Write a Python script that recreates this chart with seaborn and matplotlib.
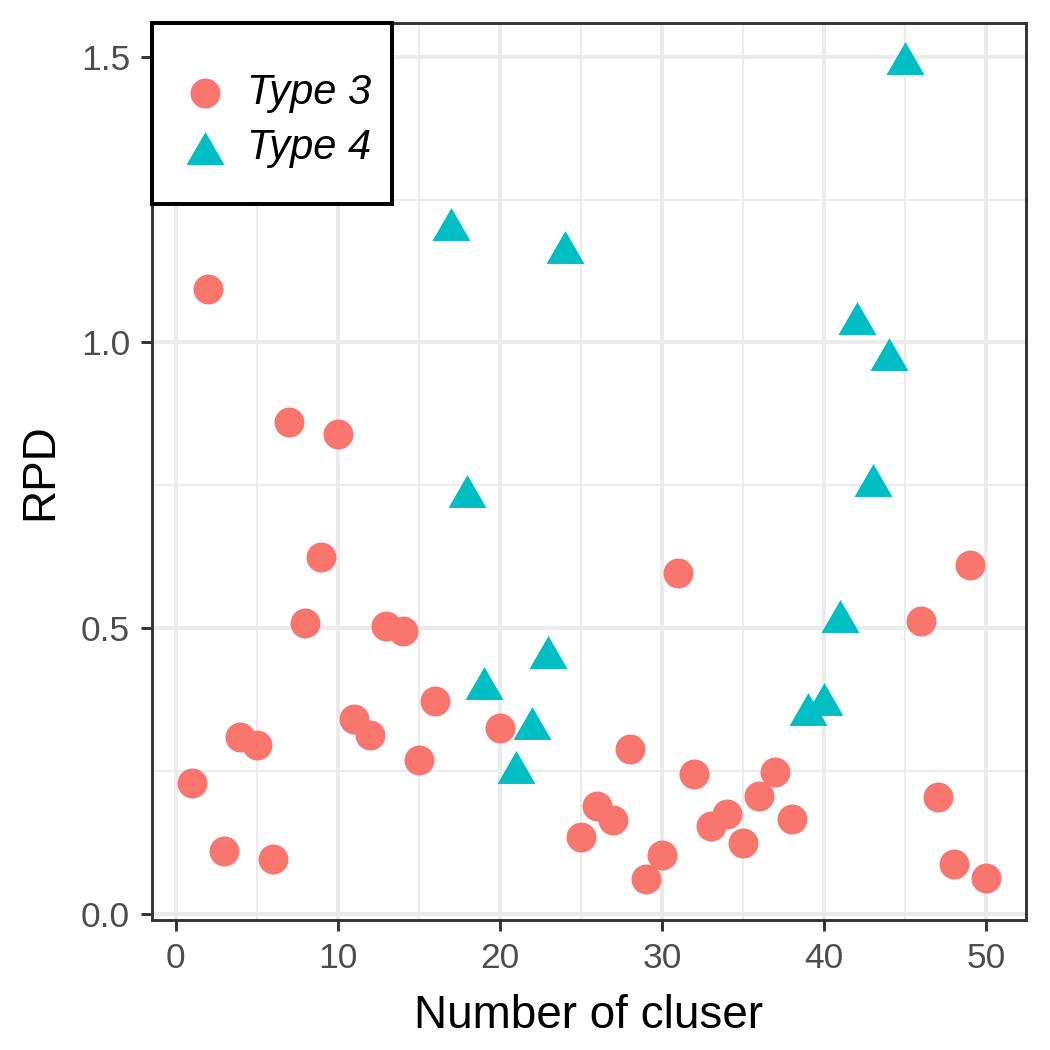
import numpy as np
import pandas as pd
import matplotlib
matplotlib.use('Agg')
import matplotlib.pyplot as plt
import seaborn as sns
from matplotlib.ticker import MultipleLocator
from matplotlib.patches import Rectangle

# 数据：估计值
type3_x = [1, 2, 3, 4, 5, 6, 7, 8, 9, 10, 11, 12, 13, 14, 15, 16, 20,
           25, 26, 27, 28, 29, 30, 31, 32, 33, 34, 35, 36, 37, 38,
           46, 47, 48, 49, 50]
type3_y = [0.229, 1.094, 0.110, 0.310, 0.296, 0.096, 0.861, 0.509, 0.625, 0.840,
           0.341, 0.313, 0.504, 0.495, 0.270, 0.373, 0.326,
           0.135, 0.189, 0.165, 0.289, 0.061, 0.103, 0.597, 0.245, 0.154, 0.175,
           0.124, 0.207, 0.249, 0.166,
           0.513, 0.205, 0.088, 0.611, 0.063]
type4_x = [17, 18, 19, 21, 22, 23, 24, 39, 40, 41, 42, 43, 44, 45]
type4_y = [1.208, 0.740, 0.404, 0.257, 0.334, 0.459, 1.167,
           0.359, 0.376, 0.522, 1.043, 0.760, 0.980, 1.497]
labels = ['Type 3', 'Type 4']
colors = ['#F8766D', '#00BFC4']

df3 = pd.DataFrame({'cluster': type3_x, 'RPD': type3_y})
df4 = pd.DataFrame({'cluster': type4_x, 'RPD': type4_y})

sns.set_style('white')
plt.rcParams['font.family'] = ['Liberation Sans', 'DejaVu Sans']

W = H = 1050
fig = plt.figure(figsize=(7, 7), dpi=150)
# 面板像素范围: x 152..1026, y 23..920
ax = fig.add_axes([152 / W, 1 - 920 / H, (1026 - 152) / W, (920 - 23) / H])

# 等边三角形标记
tri = [(0, 0.866), (-1, -0.866), (1, -0.866), (0, 0.866)]

sns.scatterplot(data=df3, x='cluster', y='RPD', color=colors[0], marker='o',
                s=207, linewidth=0, label=labels[0], ax=ax, zorder=3)
sns.scatterplot(data=df4, x='cluster', y='RPD', color=colors[1], marker=tri,
                s=333, linewidth=0, label=labels[1], ax=ax, zorder=3)

ax.set_xlim(-1.45, 52.45)
ax.set_ylim(-0.0105, 1.559)
ax.xaxis.set_major_locator(MultipleLocator(10))
ax.xaxis.set_minor_locator(MultipleLocator(5))
ax.yaxis.set_major_locator(MultipleLocator(0.5))
ax.yaxis.set_minor_locator(MultipleLocator(0.25))
ax.yaxis.set_major_formatter(plt.FuncFormatter(lambda v, p: f'{v:.1f}'))

ax.grid(which='major', color='#EBEBEB', linewidth=1.9)
ax.grid(which='minor', color='#EBEBEB', linewidth=1.0)
ax.set_axisbelow(True)

for sp in ax.spines.values():
    sp.set_color('#333333')
    sp.set_linewidth(1.4)
    sp.set_visible(True)

ax.tick_params(which='major', length=5.5, width=1.4, color='#333333',
               labelsize=17, labelcolor='#4D4D4D', pad=5, left=True, bottom=True)
ax.tick_params(which='minor', length=0)

ax.set_xlabel('Number of cluser', fontsize=22, color='black', labelpad=9)
ax.set_ylabel('RPD', fontsize=22, color='black', labelpad=9)

# 图例边框
aw, ah = 1026 - 152, 920 - 23
frame = Rectangle((0, 1 - (204 - 23) / ah), 240 / aw, (204 - 23) / ah,
                  transform=ax.transAxes, facecolor='white', edgecolor='black',
                  linewidth=1.9, zorder=4, clip_on=False)
ax.add_patch(frame)

leg = ax.legend(loc='upper left',
                bbox_to_anchor=((171.7 - 152) / aw, 1 - (73 - 23) / ah),
                borderaxespad=0, borderpad=0, frameon=False,
                prop={'size': 20, 'style': 'italic'},
                labelspacing=0.35, handletextpad=0.2,
                handlelength=1.6)
leg.set_zorder(5)
for t in leg.get_texts():
    t.set_color('black')

plt.savefig('out.png', dpi=150)
plt.close()
